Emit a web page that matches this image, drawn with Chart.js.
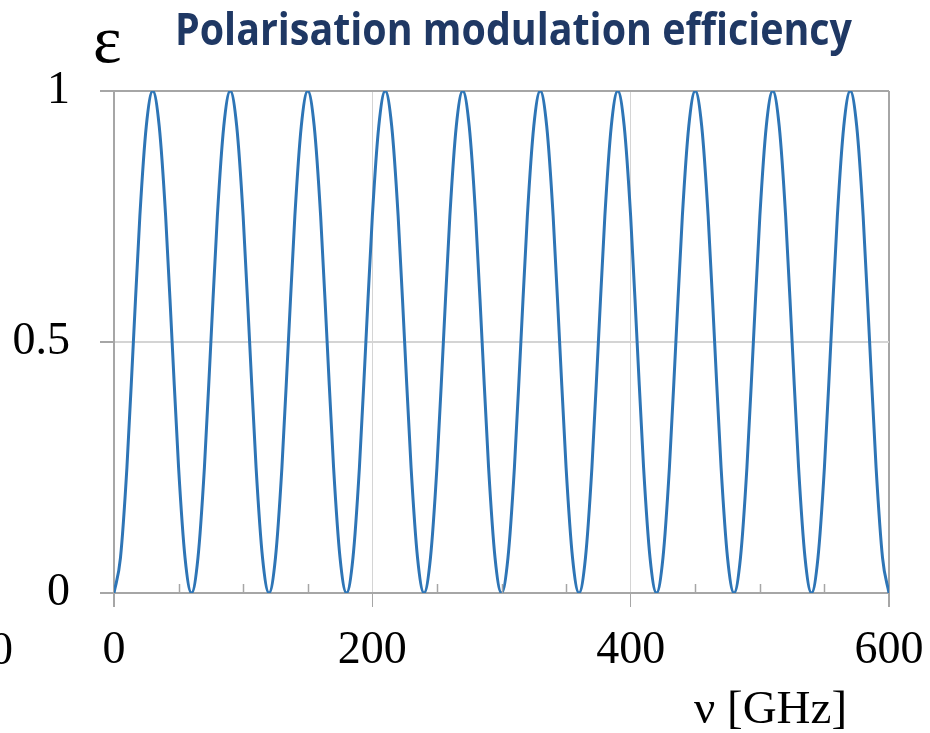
<!DOCTYPE html>
<html>
<head>
<meta charset="utf-8">
<script src="https://cdn.jsdelivr.net/npm/chart.js@4"></script>
<style>
  body { margin: 0; background: #fff; }
  canvas { display: block; }
</style>
</head>
<body>
<canvas id="myChart" width="930" height="733"></canvas>
<script>
// frequency samples, GHz
let freq = [
    0, 5, 10, 15, 20, 25, 30, 35, 40, 45, 50, 55,
    60, 65, 70, 75, 80, 85, 90, 95, 100, 105, 110, 115,
    120, 125, 130, 135, 140, 145, 150, 155, 160, 165, 170, 175,
    180, 185, 190, 195, 200, 205, 210, 215, 220, 225, 230, 235,
    240, 245, 250, 255, 260, 265, 270, 275, 280, 285, 290, 295,
    300, 305, 310, 315, 320, 325, 330, 335, 340, 345, 350, 355,
    360, 365, 370, 375, 380, 385, 390, 395, 400, 405, 410, 415,
    420, 425, 430, 435, 440, 445, 450, 455, 460, 465, 470, 475,
    480, 485, 490, 495, 500, 505, 510, 515, 520, 525, 530, 535,
    540, 545, 550, 555, 560, 565, 570, 575, 580, 585, 590, 595,
    600
];

// modulation efficiency
let eps = [
    0, 0.07, 0.25, 0.5, 0.75, 0.93, 1, 0.93, 0.75, 0.5, 0.25, 0.07,
    0, 0.07, 0.25, 0.5, 0.75, 0.93, 1, 0.93, 0.75, 0.5, 0.25, 0.07,
    0, 0.07, 0.25, 0.5, 0.75, 0.93, 1, 0.93, 0.75, 0.5, 0.25, 0.07,
    0, 0.07, 0.25, 0.5, 0.75, 0.93, 1, 0.93, 0.75, 0.5, 0.25, 0.07,
    0, 0.07, 0.25, 0.5, 0.75, 0.93, 1, 0.93, 0.75, 0.5, 0.25, 0.07,
    0, 0.07, 0.25, 0.5, 0.75, 0.93, 1, 0.93, 0.75, 0.5, 0.25, 0.07,
    0, 0.07, 0.25, 0.5, 0.75, 0.93, 1, 0.93, 0.75, 0.5, 0.25, 0.07,
    0, 0.07, 0.25, 0.5, 0.75, 0.93, 1, 0.93, 0.75, 0.5, 0.25, 0.07,
    0, 0.07, 0.25, 0.5, 0.75, 0.93, 1, 0.93, 0.75, 0.5, 0.25, 0.07,
    0, 0.07, 0.25, 0.5, 0.75, 0.93, 1, 0.93, 0.75, 0.5, 0.25, 0.07,
    0
];

let xTicks = [0, 200, 400, 600];
let xMinorTicks = [50, 100, 150, 250, 300, 350, 450, 500, 550];
let yTicks = [0, 0.5, 1];

let titleText = 'Polarisation modulation efficiency';
let yTitle = 'ε';
let xTitle = 'ν [GHz]';

let axisGray = '#a6a6a6';
let gridGray = '#d4d4d4';
let serif = "'Liberation Serif', 'Times New Roman', serif";

let points = freq.map(function(f, i){
    return {x: f, y: eps[i]};
});

// small inward ticks on the frequency axis + free text
let extras = {
    id: 'extras',
    afterDraw: function(chart){
        let ctx = chart.ctx;
        let xs = chart.scales.x;
        let area = chart.chartArea;
        ctx.save();
        ctx.strokeStyle = axisGray;
        ctx.lineWidth = 1.5;
        xMinorTicks.forEach(function(v){
            let px = Math.round(xs.getPixelForValue(v)) + 0.5;
            ctx.beginPath();
            ctx.moveTo(px, area.bottom);
            ctx.lineTo(px, area.bottom - 9);
            ctx.stroke();
        });

        // title, squeezed to its width
        ctx.fillStyle = '#1f3864';
        ctx.font = "bold 44px 'Open Sans', sans-serif";
        ctx.textBaseline = 'alphabetic';
        ctx.textAlign = 'left';
        let w = ctx.measureText(titleText).width;
        ctx.save();
        ctx.translate(175, 45);
        ctx.scale(677 / w, 1);
        ctx.fillText(titleText, 0, 0);
        ctx.restore();

        ctx.fillStyle = '#000';
        ctx.font = '68px ' + serif;
        ctx.fillText(yTitle, 93, 62);

        ctx.font = '47px ' + serif;
        ctx.fillText(xTitle, 694, 723);

        ctx.textAlign = 'right';
        ctx.font = '46px ' + serif;
        ctx.fillText('0', 13, 664);
        ctx.restore();
    }
};

let config = {
    type: 'line',
    data: {
        datasets: [{
            data: points,
            borderColor: '#2e75b6',
            borderWidth: 3,
            pointRadius: 0,
            fill: false,
            cubicInterpolationMode: 'monotone'
        }]
    },
    options: {
        responsive: false,
        animation: false,
        layout: { padding: { left: 0, right: 41, top: 91, bottom: 0 } },
        plugins: {
            legend: { display: false },
            tooltip: { enabled: false }
        },
        scales: {
            x: {
                type: 'linear',
                min: 0,
                max: 600,
                afterBuildTicks: function(scale){
                    scale.ticks = xTicks.map(function(v){ return {value: v}; });
                },
                afterFit: function(scale){
                    scale.height = 140;
                    scale.paddingLeft = 0;
                    scale.paddingRight = 0;
                },
                ticks: {
                    color: '#000',
                    font: { family: serif, size: 46 },
                    padding: 16,
                    maxRotation: 0,
                    callback: function(v){ return String(v); }
                },
                grid: {
                    color: function(c){
                        let v = c.tick ? c.tick.value : 0;
                        return (v === 200 || v === 400) ? gridGray : axisGray;
                    },
                    lineWidth: function(c){
                        let v = c.tick ? c.tick.value : 0;
                        return (v === 200 || v === 400) ? 1 : 2;
                    },
                    tickColor: axisGray,
                    tickLength: 14
                },
                border: { color: axisGray, width: 2 }
            },
            y: {
                min: 0,
                max: 1,
                afterBuildTicks: function(scale){
                    scale.ticks = yTicks.map(function(v){ return {value: v}; });
                },
                afterFit: function(scale){
                    scale.width = 114;
                    scale.paddingTop = 0;
                    scale.paddingBottom = 0;
                },
                ticks: {
                    color: '#000',
                    font: { family: serif, size: 46 },
                    padding: 30,
                    callback: function(v){ return String(v); }
                },
                grid: {
                    color: function(c){
                        let v = c.tick ? c.tick.value : 0;
                        return v === 0.5 ? gridGray : axisGray;
                    },
                    lineWidth: 2,
                    tickColor: axisGray,
                    tickLength: 14
                },
                border: { color: axisGray, width: 2 }
            }
        }
    },
    plugins: [extras]
};

let myChart = new Chart(document.getElementById('myChart'), config);
</script>
</body>
</html>
